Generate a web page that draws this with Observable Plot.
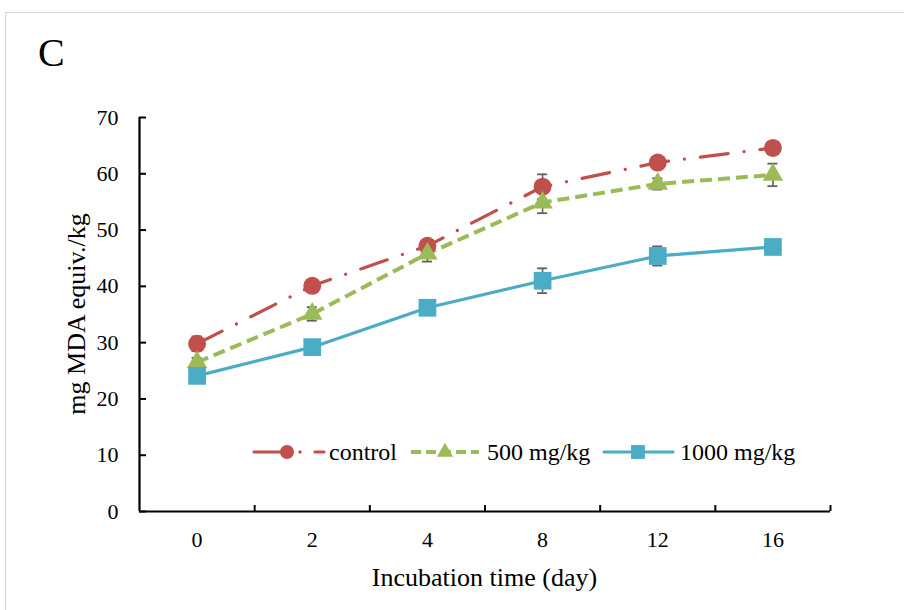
<!DOCTYPE html>
<html><head><meta charset="utf-8">
<script src="https://cdn.jsdelivr.net/npm/d3@7"></script>
<script src="https://cdn.jsdelivr.net/npm/@observablehq/plot@0.6"></script>
<style>
body{margin:0;background:#fff;}
#wrap{position:relative;width:904px;height:610px;overflow:hidden;background:#fff;font-family:"Liberation Serif","Times New Roman",serif;}
#border{position:absolute;left:5px;top:12px;width:1000px;height:800px;border:1px solid #d9d9d9;box-sizing:border-box;}
#chart{position:absolute;left:0;top:0;}
#overlay{position:absolute;left:0;top:0;pointer-events:none;}
</style></head>
<body><div id="wrap"><div id="border"></div><div id="chart"></div>
<svg id="overlay" width="904" height="610"></svg></div>
<script>
// ---- data ----
const days = ["0", "2", "4", "8", "12", "16"];
const seriesNames = ["control", "500 mg/kg", "1000 mg/kg"];
const controlValues = [29.8, 40.1, 47.2, 57.7, 62.0, 64.6];
const controlErr    = [1.3, 0.5, 0.6, 2.2, 0.6, 0.5];
const mg500Values   = [26.5, 35.1, 45.8, 54.9, 58.2, 59.8];
const mg500Err      = [0.8, 1.2, 1.4, 1.9, 1.0, 2.0];
const mg1000Values  = [24.1, 29.2, 36.2, 41.0, 45.4, 47.0];
const mg1000Err     = [0.5, 0.5, 0.5, 2.2, 1.7, 0.5];
const yTicks = [0, 10, 20, 30, 40, 50, 60, 70];
const yTitle = "mg MDA equiv./kg";
const xTitle = "Incubation time (day)";
const panelLabel = "C";

// ---- styles ----
const colors = ["#C0504D", "#9BBB59", "#4BACC6"];
const dashes = ["28,16,0.1,16", "12,6", null];
const caps = ["round", "butt", "round"];
const symbols = ["circle", "triangle", "square"];
const radii = [9, 7.6, 10];
const allValues = [controlValues, mg500Values, mg1000Values];
const allErr = [controlErr, mg500Err, mg1000Err];

const W = 904, H = 610, mL = 139, mR = 74, mT = 117, mB = 99;
const plotW = W - mL - mR, plotH = H - mT - mB;
const idx = d3.range(days.length);
const bounds = d3.range(days.length).map(i => i + 0.5);

const rows = [];
seriesNames.forEach((s, k) => allValues[k].forEach((v, i) => rows.push({k, s, i, v, e: allErr[k][i]})));

const marks = [
  Plot.axisY({ticks: yTicks, tickSize: 0, tickPadding: 21, tickFormat: d => String(d), label: null, fontSize: 22}),
  Plot.axisX({ticks: idx, tickSize: 0, tickPadding: 20, tickFormat: i => days[i], label: null, fontSize: 22}),
  Plot.tickY(yTicks, {y: d => d, insetRight: plotW - 7, stroke: "#000", strokeWidth: 2}),
  Plot.tickX(bounds, {x: d => d, insetTop: plotH - 6, stroke: "#000", strokeWidth: 2}),
  Plot.ruleY([0], {stroke: "#000", strokeWidth: 2.2}),
  Plot.ruleX([-0.5], {stroke: "#000", strokeWidth: 2.2})
];
seriesNames.forEach((s, k) => {
  const d = rows.filter(r => r.k === k);
  marks.push(Plot.line(d, {x: "i", y: "v", stroke: colors[k], strokeWidth: k === 1 ? 4 : 3.2,
    strokeDasharray: dashes[k], strokeLinecap: caps[k], strokeLinejoin: "round"}));
});
const errStroke = "#5f5f5f";
marks.push(
  Plot.ruleX(rows, {x: "i", y1: d => d.v - d.e, y2: d => d.v + d.e, stroke: errStroke, strokeWidth: 1.6}),
  Plot.ruleY(rows, {y: d => d.v + d.e, x1: "i", x2: "i", insetLeft: -5, insetRight: -5, stroke: errStroke, strokeWidth: 1.8}),
  Plot.ruleY(rows, {y: d => d.v - d.e, x1: "i", x2: "i", insetLeft: -5, insetRight: -5, stroke: errStroke, strokeWidth: 1.8})
);
seriesNames.forEach((s, k) => {
  const d = rows.filter(r => r.k === k);
  marks.push(Plot.dot(d, {x: "i", y: "v", symbol: symbols[k], r: radii[k], fill: colors[k], stroke: null}));
});

const chart = Plot.plot({
  width: W, height: H, marginLeft: mL, marginRight: mR, marginTop: mT, marginBottom: mB,
  style: {fontFamily: "'Liberation Serif','Times New Roman',serif", fontSize: "22px", color: "#000", background: "transparent", overflow: "visible"},
  x: {domain: [-0.5, days.length - 0.5], axis: null},
  y: {domain: [0, 70], axis: null},
  marks
});
document.getElementById("chart").appendChild(chart);

// ---- overlay text + legend ----
const ov = d3.select("#overlay");
const ff = "'Liberation Serif','Times New Roman',serif";
ov.append("text").attr("x", 38).attr("y", 66).attr("font-family", ff).attr("font-size", 40).text(panelLabel);
ov.append("text").attr("x", mL + plotW / 2).attr("y", 586).attr("text-anchor", "middle")
  .attr("font-family", ff).attr("font-size", 26).text(xTitle);
ov.append("text").attr("transform", `translate(85,${mT + plotH / 2}) rotate(-90)`).attr("text-anchor", "middle")
  .attr("font-family", ff).attr("font-size", 26).text(yTitle);

const ly = 452;
const leg = [
  {x0: 254, x1: 324, mx: 287, tx: 329},
  {x0: 411, x1: 479, mx: 445, tx: 487},
  {x0: 604, x1: 673, mx: 638, tx: 680}
];
const symGen = [d3.symbolCircle, d3.symbolTriangle, d3.symbolSquare];
const legR = [7, 6, 7.8];
leg.forEach((g, k) => {
  if (k === 0) {
    ov.append("line").attr("x1", g.x0).attr("x2", g.mx).attr("y1", ly).attr("y2", ly)
      .attr("stroke", colors[0]).attr("stroke-width", 3.2).attr("stroke-linecap", "round");
    ov.append("circle").attr("cx", g.mx + 13).attr("cy", ly).attr("r", 1.7).attr("fill", colors[0]);
    ov.append("line").attr("x1", g.mx + 28).attr("x2", g.x1).attr("y1", ly).attr("y2", ly)
      .attr("stroke", colors[0]).attr("stroke-width", 3.2).attr("stroke-linecap", "round");
  } else {
    ov.append("line").attr("x1", g.x0).attr("x2", g.x1).attr("y1", ly).attr("y2", ly)
      .attr("stroke", colors[k]).attr("stroke-width", k === 1 ? 4 : 3.2)
      .attr("stroke-dasharray", k === 1 ? "10,5" : null).attr("stroke-linecap", k === 1 ? "butt" : "round");
  }
  ov.append("path").attr("transform", `translate(${g.mx},${ly})`)
    .attr("d", d3.symbol(symGen[k], Math.PI * legR[k] * legR[k])()).attr("fill", colors[k]);
  ov.append("text").attr("x", g.tx).attr("y", ly + 8).attr("font-family", ff).attr("font-size", 24).text(seriesNames[k]);
});
</script></body></html>
